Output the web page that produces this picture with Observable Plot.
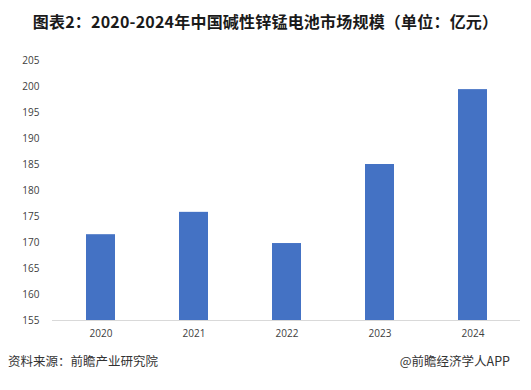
<!DOCTYPE html>
<html>
<head>
<meta charset="utf-8">
<script src="https://cdn.jsdelivr.net/npm/d3@7"></script>
<script src="https://cdn.jsdelivr.net/npm/@observablehq/plot@0.6"></script>
<style>
  html, body { margin: 0; padding: 0; background: #fff; }
  #wrap { position: relative; width: 531px; height: 390px; overflow: hidden; font-family: "Noto Sans CJK SC", "Open Sans", sans-serif; }
  #title { height: 45px; line-height: 42px; text-align: center; font-size: 16px; font-weight: bold; color: #1a1a1a; white-space: nowrap; letter-spacing: 0.2px; }
  #footer { position: relative; height: 45px; font-size: 12.5px; color: #333; }
  #src { position: absolute; left: 8px; top: 6px; }
  #brand { position: absolute; right: 21px; top: 6px; }
  #chart svg { display: block; }
</style>
</head>
<body>
<div id="wrap">
  <div id="title">图表2：2020-2024年中国碱性锌锰电池市场规模（单位：亿元）</div>
  <div id="chart"></div>
  <div id="footer"><span id="src">资料来源：前瞻产业研究院</span><span id="brand">@前瞻经济学人APP</span></div>
</div>
<script>
const years = ["2020", "2021", "2022", "2023", "2024"];
const values = [171.5, 175.8, 169.8, 185.0, 199.4];
const yTicks = [155, 160, 165, 170, 175, 180, 185, 190, 195, 200, 205];

const data = years.map((y, i) => ({year: y, value: values[i]}));

const chart = Plot.plot({
  width: 531,
  height: 300,
  marginTop: 15,
  marginBottom: 25,
  marginLeft: 52,
  marginRight: 11,
  style: {fontFamily: "'Open Sans', 'Noto Sans CJK SC', sans-serif", fontSize: "10px", color: "#404040", background: "#fff"},
  x: {domain: years, paddingInner: 0.69, paddingOuter: 0.345, label: null},
  y: {domain: [155, 205], label: null},
  marks: [
    Plot.barY(data, {x: "year", y1: 155, y2: "value", fill: "#4472C4"}),
    Plot.ruleY([155], {stroke: "#d9d9d9", strokeWidth: 1}),
    Plot.axisX({tickSize: 0, tickPadding: 9, label: null, fill: "#404040"}),
    Plot.axisY({ticks: yTicks, tickSize: 0, tickPadding: 13, label: null, fill: "#404040"})
  ]
});
document.getElementById("chart").appendChild(chart);
</script>
</body>
</html>
